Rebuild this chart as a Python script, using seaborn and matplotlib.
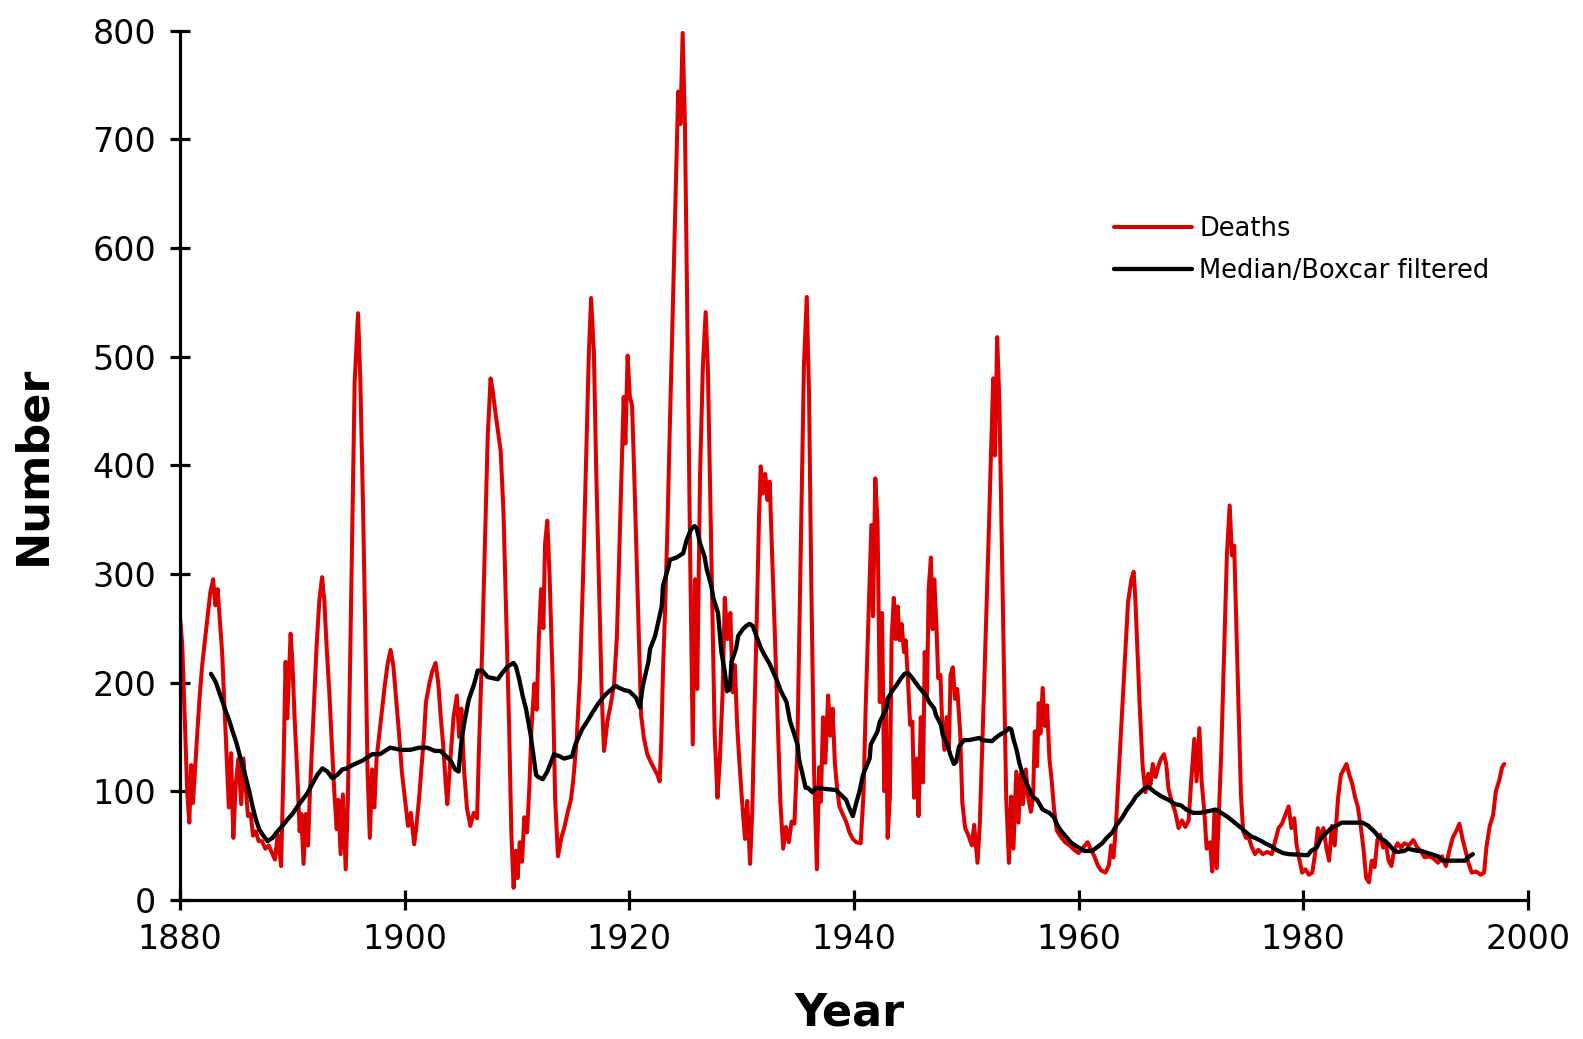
import matplotlib
matplotlib.use("Agg")
import matplotlib.pyplot as plt
import pandas as pd
import seaborn as sns

# values (year, number)
death_year = [
    1880.0, 1880.2, 1880.35, 1880.5, 1880.65, 1880.83, 1881.0, 1881.15, 1881.35, 1881.55,
    1881.75, 1881.95, 1882.2, 1882.45, 1882.7, 1882.95, 1883.15, 1883.35, 1883.55, 1883.75,
    1883.95, 1884.15, 1884.35, 1884.55, 1884.75, 1884.95, 1885.2, 1885.45, 1885.65, 1885.85,
    1886.05, 1886.3, 1886.5, 1886.75, 1887.0, 1887.3, 1887.6, 1887.9, 1888.15, 1888.45,
    1888.7, 1889.0, 1889.2, 1889.4, 1889.55, 1889.85, 1890.0, 1890.2, 1890.45, 1890.65,
    1890.8, 1891.0, 1891.2, 1891.4, 1891.55, 1891.75, 1891.95, 1892.15, 1892.4, 1892.65,
    1892.85, 1893.05, 1893.3, 1893.5, 1893.75, 1893.95, 1894.1, 1894.3, 1894.5, 1894.75,
    1894.95, 1895.15, 1895.35, 1895.55, 1895.85, 1896.05, 1896.3, 1896.5, 1896.7, 1896.9,
    1897.1, 1897.3, 1897.5, 1897.75, 1898.0, 1898.25, 1898.5, 1898.75, 1899.0, 1899.25,
    1899.5, 1899.75, 1900.0, 1900.3, 1900.55, 1900.85, 1901.05, 1901.3, 1901.5, 1901.7,
    1901.9, 1902.2, 1902.45, 1902.75, 1903.0, 1903.2, 1903.45, 1903.65, 1903.8, 1904.05,
    1904.35, 1904.65, 1904.85, 1905.05, 1905.3, 1905.55, 1905.85, 1906.15, 1906.45, 1906.6,
    1906.9, 1907.15, 1907.4, 1907.65, 1907.85, 1908.05, 1908.3, 1908.55, 1908.8, 1909.05,
    1909.3, 1909.5, 1909.7, 1909.9, 1910.05, 1910.25, 1910.45, 1910.65, 1910.9, 1911.1,
    1911.3, 1911.55, 1911.75, 1911.95, 1912.15, 1912.35, 1912.5, 1912.7, 1912.9, 1913.2,
    1913.4, 1913.65, 1913.95, 1914.25, 1914.5, 1914.8, 1915.0, 1915.3, 1915.6, 1915.9,
    1916.15, 1916.4, 1916.6, 1916.85, 1917.05, 1917.3, 1917.55, 1917.75, 1918.05, 1918.35,
    1918.65, 1918.9, 1919.1, 1919.3, 1919.5, 1919.65, 1919.85, 1920.05, 1920.25, 1920.45,
    1920.65, 1920.85, 1921.05, 1921.3, 1921.6, 1921.9, 1922.2, 1922.5, 1922.7, 1922.85,
    1923.0, 1923.2, 1923.4, 1923.6, 1923.85, 1924.1, 1924.35, 1924.55, 1924.75, 1924.95,
    1925.15, 1925.4, 1925.65, 1925.85, 1926.05, 1926.3, 1926.55, 1926.8, 1927.0, 1927.2,
    1927.4, 1927.6, 1927.85, 1928.05, 1928.3, 1928.5, 1928.75, 1929.0, 1929.2, 1929.4,
    1929.6, 1929.8, 1930.05, 1930.3, 1930.5, 1930.75, 1930.95, 1931.15, 1931.35, 1931.55,
    1931.7, 1931.9, 1932.1, 1932.3, 1932.5, 1932.7, 1932.95, 1933.2, 1933.45, 1933.7,
    1933.95, 1934.2, 1934.45, 1934.7, 1934.95, 1935.15, 1935.35, 1935.55, 1935.8, 1936.0,
    1936.2, 1936.45, 1936.7, 1936.9, 1937.05, 1937.25, 1937.45, 1937.7, 1937.9, 1938.1,
    1938.3, 1938.5, 1938.7, 1938.95, 1939.3, 1939.6, 1939.9, 1940.2, 1940.6, 1940.85,
    1941.05, 1941.3, 1941.55, 1941.7, 1941.9, 1942.1, 1942.3, 1942.5, 1942.7, 1942.85,
    1943.0, 1943.2, 1943.35, 1943.55, 1943.7, 1943.9, 1944.05, 1944.25, 1944.45, 1944.6,
    1944.8, 1945.0, 1945.2, 1945.35, 1945.55, 1945.75, 1945.95, 1946.15, 1946.3, 1946.5,
    1946.65, 1946.85, 1947.0, 1947.15, 1947.35, 1947.5, 1947.7, 1947.85, 1948.05, 1948.25,
    1948.45, 1948.6, 1948.8, 1949.0, 1949.2, 1949.45, 1949.65, 1949.9, 1950.2, 1950.5,
    1950.7, 1951.0, 1951.2, 1951.4, 1951.6, 1951.8, 1952.0, 1952.2, 1952.4, 1952.55,
    1952.75, 1952.95, 1953.15, 1953.35, 1953.55, 1953.8, 1954.0, 1954.2, 1954.45, 1954.65,
    1954.85, 1955.05, 1955.3, 1955.5, 1955.75, 1955.95, 1956.1, 1956.3, 1956.45, 1956.6,
    1956.8, 1957.0, 1957.2, 1957.4, 1957.6, 1957.8, 1958.05, 1958.4, 1958.8, 1959.2,
    1959.6, 1960.0, 1960.4, 1960.8, 1961.1, 1961.4, 1961.7, 1962.0, 1962.4, 1962.7,
    1962.9, 1963.1, 1963.3, 1963.5, 1963.8, 1964.1, 1964.4, 1964.7, 1964.9, 1965.05,
    1965.25, 1965.45, 1965.7, 1965.95, 1966.2, 1966.4, 1966.6, 1966.85, 1967.1, 1967.35,
    1967.6, 1967.8, 1968.0, 1968.3, 1968.6, 1968.9, 1969.2, 1969.5, 1969.8, 1970.0,
    1970.3, 1970.5, 1970.75, 1970.95, 1971.2, 1971.4, 1971.7, 1971.9, 1972.1, 1972.3,
    1972.5, 1972.7, 1972.95, 1973.2, 1973.45, 1973.65, 1973.85, 1974.05, 1974.25, 1974.45,
    1974.65, 1974.9, 1975.15, 1975.4, 1975.7, 1976.0, 1976.4, 1976.8, 1977.2, 1977.5,
    1977.8, 1978.1, 1978.4, 1978.7, 1978.95, 1979.2, 1979.4, 1979.65, 1979.9, 1980.2,
    1980.5, 1980.8, 1981.05, 1981.3, 1981.55, 1981.8, 1982.05, 1982.3, 1982.55, 1982.8,
    1983.1, 1983.35, 1983.6, 1983.85, 1984.1, 1984.35, 1984.6, 1984.85, 1985.1, 1985.35,
    1985.6, 1985.85, 1986.1, 1986.35, 1986.6, 1986.85, 1987.1, 1987.35, 1987.6, 1987.85,
    1988.1, 1988.4, 1988.7, 1989.0, 1989.4, 1989.8, 1990.1, 1990.45, 1990.8, 1991.2,
    1991.6, 1992.0, 1992.35, 1992.7, 1993.0, 1993.3, 1993.65, 1993.9, 1994.2, 1994.45,
    1994.7, 1995.0, 1995.4, 1995.8, 1996.1, 1996.3, 1996.6, 1996.9, 1997.15, 1997.45,
    1997.7, 1997.9,
]
death_count = [
    260, 235, 190, 145, 98, 71, 124, 89, 121, 155,
    187, 213, 237, 260, 283, 295, 271, 286, 257, 228,
    181, 133, 85, 135, 57, 105, 130, 88, 130, 103,
    77, 79, 59, 63, 54, 54, 47, 50, 44, 37,
    60, 31, 115, 219, 167, 245, 220, 168, 115, 63,
    79, 33, 79, 50, 94, 140, 184, 231, 275, 297,
    275, 234, 190, 147, 97, 65, 92, 42, 97, 28,
    94, 222, 349, 476, 540, 480, 360, 242, 118, 57,
    120, 85, 130, 153, 176, 199, 218, 230, 215, 184,
    153, 118, 95, 68, 80, 51, 68, 95, 122, 147,
    182, 199, 210, 218, 199, 170, 140, 107, 88, 126,
    168, 188, 150, 176, 118, 84, 68, 80, 75, 133,
    230, 330, 428, 480, 468, 451, 432, 413, 357, 259,
    160, 61, 11, 45, 20, 53, 35, 76, 62, 103,
    160, 199, 175, 242, 286, 250, 328, 349, 299, 195,
    92, 40, 57, 68, 80, 92, 109, 145, 203, 303,
    403, 503, 554, 503, 397, 293, 187, 137, 164, 180,
    199, 243, 317, 391, 463, 420, 501, 463, 455, 388,
    316, 243, 170, 149, 134, 127, 121, 115, 109, 146,
    211, 272, 344, 432, 534, 641, 744, 714, 798, 715,
    551, 331, 143, 295, 194, 392, 491, 541, 487, 377,
    263, 153, 94, 127, 188, 278, 240, 264, 191, 216,
    161, 127, 89, 56, 91, 33, 82, 175, 260, 353,
    399, 374, 392, 368, 385, 322, 247, 167, 90, 47,
    67, 53, 72, 70, 134, 253, 372, 493, 555, 467,
    293, 118, 28, 122, 90, 168, 126, 188, 151, 176,
    126, 103, 86, 80, 72, 62, 56, 53, 52, 97,
    179, 261, 345, 261, 388, 347, 182, 264, 100, 184,
    57, 95, 240, 278, 240, 270, 239, 254, 228, 239,
    204, 161, 164, 94, 130, 77, 168, 108, 228, 185,
    286, 315, 249, 295, 251, 204, 207, 164, 138, 168,
    138, 207, 214, 185, 194, 155, 89, 66, 59, 50,
    69, 34, 69, 133, 200, 267, 337, 411, 480, 409,
    518, 457, 335, 215, 95, 34, 95, 47, 118, 71,
    116, 88, 120, 95, 81, 95, 155, 123, 181, 153,
    195, 160, 179, 130, 110, 85, 64, 58, 53, 50,
    46, 43, 48, 53, 46, 40, 32, 27, 25, 32,
    50, 39, 64, 102, 158, 216, 274, 295, 302, 277,
    227, 176, 123, 99, 116, 106, 125, 113, 123, 130,
    134, 125, 102, 90, 81, 66, 73, 67, 73, 106,
    148, 109, 158, 109, 80, 47, 53, 26, 83, 29,
    83, 136, 227, 317, 363, 317, 326, 249, 172, 97,
    63, 57, 57, 49, 42, 46, 42, 44, 42, 54,
    66, 70, 78, 86, 66, 75, 51, 37, 25, 28,
    23, 25, 42, 66, 58, 66, 48, 36, 68, 50,
    94, 115, 120, 125, 115, 107, 95, 86, 69, 48,
    20, 16, 36, 30, 55, 60, 48, 52, 36, 31,
    46, 52, 48, 52, 50, 55, 49, 45, 39, 40,
    38, 34, 40, 31, 45, 57, 64, 70, 55, 45,
    34, 25, 26, 23, 25, 48, 68, 78, 100, 110,
    122, 125,
]

filtered_year = [
    1882.76, 1883.2, 1883.5, 1883.8, 1884.09, 1884.39, 1884.68, 1884.98, 1885.27, 1885.57,
    1885.87, 1886.16, 1886.46, 1886.75, 1887.05, 1887.35, 1887.79, 1888.24, 1888.68, 1889.12,
    1889.57, 1890.01, 1890.46, 1890.9, 1891.34, 1891.79, 1892.23, 1892.68, 1893.12, 1893.56,
    1894.01, 1894.45, 1894.9, 1895.34, 1895.78, 1896.23, 1896.67, 1897.1, 1897.8, 1898.7,
    1899.7, 1900.5, 1901.3, 1902.0, 1902.7, 1903.2, 1903.7, 1904.1, 1904.5, 1904.8,
    1905.1, 1905.4, 1905.7, 1906.2, 1906.5, 1906.9, 1907.4, 1908.3, 1908.7, 1909.2,
    1909.7, 1909.9, 1910.2, 1910.5, 1910.8, 1911.2, 1911.4, 1911.7, 1911.9, 1912.3,
    1912.7, 1913.0, 1913.3, 1913.8, 1914.2, 1914.9, 1915.2, 1915.8, 1916.3, 1916.7,
    1917.2, 1917.8, 1918.2, 1918.8, 1919.1, 1919.55, 1920.0, 1920.6, 1920.95, 1921.2,
    1921.7, 1921.85, 1922.3, 1922.5, 1922.9, 1923.0, 1923.5, 1923.6, 1924.2, 1924.8,
    1925.1, 1925.5, 1925.8, 1926.0, 1926.3, 1926.7, 1926.9, 1927.3, 1927.5, 1927.9,
    1928.0, 1928.2, 1928.5, 1928.7, 1928.95, 1929.1, 1929.5, 1929.7, 1930.1, 1930.4,
    1930.7, 1931.0, 1931.3, 1931.75, 1932.05, 1932.5, 1932.8, 1933.1, 1933.5, 1934.0,
    1934.3, 1935.0, 1935.1, 1935.7, 1935.9, 1936.3, 1936.6, 1938.4, 1938.8, 1939.3,
    1939.6, 1939.9, 1940.2, 1940.5, 1940.8, 1941.4, 1941.5, 1942.1, 1942.3, 1942.9,
    1943.0, 1943.45, 1943.75, 1944.2, 1944.5, 1944.8, 1945.2, 1945.7, 1946.0, 1946.4,
    1946.7, 1947.15, 1947.3, 1947.75, 1947.9, 1948.3, 1948.6, 1948.9, 1949.1, 1949.35,
    1949.8, 1950.25, 1951.15, 1951.4, 1952.3, 1952.6, 1953.0, 1953.5, 1953.8, 1954.0,
    1954.2, 1954.5, 1954.7, 1955.0, 1955.3, 1955.6, 1955.9, 1956.3, 1956.8, 1957.4,
    1957.8, 1958.1, 1958.4, 1958.8, 1959.3, 1959.7, 1960.5, 1961.2, 1961.6, 1962.1,
    1962.5, 1963.0, 1963.4, 1963.9, 1964.3, 1964.8, 1965.1, 1965.5, 1965.8, 1966.2,
    1966.8, 1967.4, 1968.0, 1968.6, 1969.1, 1969.6, 1970.2, 1970.8, 1971.3, 1972.2,
    1972.7, 1973.3, 1973.9, 1974.5, 1974.8, 1975.4, 1975.7, 1976.3, 1976.6, 1977.2,
    1977.6, 1978.2, 1978.7, 1980.4, 1980.7, 1981.2, 1981.6, 1982.2, 1982.5, 1983.1,
    1983.4, 1985.3, 1985.8, 1986.4, 1986.7, 1987.3, 1987.6, 1988.1, 1988.4, 1989.0,
    1989.3, 1990.2, 1990.5, 1991.1, 1991.4, 1992.0, 1992.4, 1994.4, 1994.65, 1995.1,
]
filtered_count = [
    208, 200, 191, 182, 173, 165, 155, 146, 135, 124,
    112, 100, 86, 74, 65, 60, 54, 57, 63, 68,
    74, 79, 86, 92, 98, 107, 115, 121, 118, 112,
    115, 120, 121, 124, 126, 128, 131, 134, 134, 140,
    138, 138, 140, 140, 137, 137, 132, 128, 120, 118,
    150, 168, 184, 199, 211, 211, 205, 203, 209, 215,
    218, 215, 203, 188, 176, 153, 138, 115, 113, 111,
    118, 126, 134, 132, 130, 132, 143, 157, 165, 172,
    180, 188, 192, 197, 195, 193, 192, 186, 177, 197,
    219, 231, 243, 252, 271, 289, 307, 313, 315, 319,
    331, 341, 344, 342, 328, 316, 304, 289, 277, 264,
    252, 228, 210, 192, 194, 219, 231, 243, 249, 252,
    254, 252, 243, 231, 225, 217, 210, 203, 192, 182,
    165, 142, 130, 103, 103, 99, 103, 101, 97, 92,
    84, 77, 89, 100, 115, 130, 143, 155, 164, 176,
    185, 193, 197, 204, 208, 209, 204, 197, 193, 188,
    182, 176, 170, 161, 152, 143, 133, 125, 127, 141,
    147, 147, 149, 147, 146, 149, 152, 155, 158, 157,
    148, 137, 127, 116, 109, 102, 95, 92, 83, 80,
    76, 69, 64, 59, 53, 50, 45, 45, 48, 52,
    57, 62, 69, 76, 83, 90, 95, 99, 102, 104,
    99, 95, 92, 88, 87, 83, 80, 80, 81, 83,
    80, 76, 71, 66, 63, 58, 57, 54, 52, 49,
    46, 43, 42, 41, 45, 48, 57, 63, 66, 69,
    71, 71, 68, 62, 58, 54, 51, 45, 44, 45,
    47, 45, 45, 43, 42, 40, 36, 36, 39, 42,
]

x_ticks = [1880, 1900, 1920, 1940, 1960, 1980, 2000]
y_ticks = [0, 100, 200, 300, 400, 500, 600, 700, 800]

sns.set_style("ticks")
plt.rcParams["font.family"] = ["DejaVu Sans"]
plt.rcParams["text.color"] = "black"
plt.rcParams["axes.labelcolor"] = "black"

deaths = pd.DataFrame({"Year": death_year, "Number": death_count})
filtered = pd.DataFrame({"Year": filtered_year, "Number": filtered_count})

fig = plt.figure(figsize=(15.83, 10.39), dpi=100)
ax = fig.add_axes([0.1137, 0.134, 0.8515, 0.8364])

sns.lineplot(data=deaths, x="Year", y="Number", color="#dd0000", linewidth=2.9,
             estimator=None, sort=False, ax=ax, label="Deaths")
sns.lineplot(data=filtered, x="Year", y="Number", color="black", linewidth=3.1,
             estimator=None, sort=False, ax=ax, label="Median/Boxcar filtered")

ax.set_xlim(1880, 2000)
ax.set_ylim(0, 800)
ax.set_xticks(x_ticks)
ax.set_yticks(y_ticks)

for side in ["top", "right"]:
    ax.spines[side].set_visible(False)
for side in ["left", "bottom"]:
    ax.spines[side].set_linewidth(2.3)
    ax.spines[side].set_color("black")

ax.tick_params(axis="both", direction="inout", length=14, width=2.3,
               labelsize=24, colors="black")
ax.tick_params(axis="y", pad=10)
ax.tick_params(axis="x", pad=10)

ax.set_xlabel("Year", fontsize=32, fontweight="bold", color="black")
ax.set_ylabel("Number", fontsize=32, fontweight="bold", color="black")
ax.xaxis.set_label_coords(0.497, -0.106)
ax.yaxis.set_label_coords(-0.093, 0.5)

leg = ax.legend(loc="upper left", bbox_to_anchor=(0.704, 0.792), bbox_transform=fig.transFigure,
                frameon=False, fontsize=18.5, handlelength=3.0, handletextpad=0.3,
                labelspacing=0.6, borderpad=0, borderaxespad=0)
for txt in leg.get_texts():
    txt.set_color("black")

fig.savefig("out.png", dpi=100)
plt.close(fig)
